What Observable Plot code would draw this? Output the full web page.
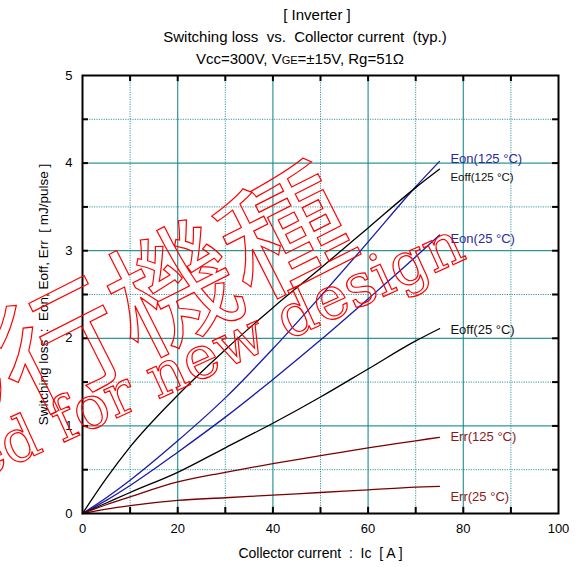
<!DOCTYPE html>
<html>
<head>
<meta charset="utf-8">
<script src="https://cdn.jsdelivr.net/npm/d3@7"></script>
<script src="https://cdn.jsdelivr.net/npm/@observablehq/plot@0.6"></script>
<style>
  body { margin: 0; background: #fff; font-family: "Liberation Sans", Arial, sans-serif; }
  #wrap { position: relative; width: 576px; height: 567px; overflow: hidden; }
  #title { position: relative; height: 68px; }
  .tl { position: absolute; width: 400px; text-align: center; font-size: 15px; white-space: pre; color: #000; line-height: 18px; }
  #wm { position: absolute; left: 0; top: 0; pointer-events: none; }
</style>
</head>
<body>
<div id="wrap">
  <div id="title">
    <div class="tl" style="left:117px; top:6px;">[ Inverter ]</div>
    <div class="tl" style="left:105px; top:28px;">Switching loss  vs.  Collector current  (typ.)</div>
    <div class="tl" style="left:100px; top:50px;">Vcc=300V, V<span style="font-size:11px">GE</span>=±15V, Rg=51Ω</div>
  </div>
  <div id="chart"></div>
  <svg id="wm" width="576" height="567"></svg>
</div>
<script>
// Collector current Ic [A]
const current = [0, 5, 10, 20, 30, 40, 50, 60, 70, 75];
// Switching losses [mJ/pulse]
const eon125  = [0, 0.18, 0.38, 0.83, 1.32, 1.88, 2.48, 3.10, 3.73, 4.02];
const eoff125 = [0, 0.40, 0.76, 1.35, 1.87, 2.35, 2.80, 3.26, 3.72, 3.93];
const eon25   = [0, 0.15, 0.32, 0.70, 1.10, 1.53, 1.98, 2.45, 2.93, 3.18];
const eoff25  = [0, 0.12, 0.24, 0.47, 0.75, 1.03, 1.33, 1.65, 1.97, 2.11];
const err125  = [0, 0.10, 0.19, 0.36, 0.47, 0.57, 0.66, 0.75, 0.83, 0.87];
const err25   = [0, 0.05, 0.09, 0.15, 0.18, 0.21, 0.24, 0.27, 0.30, 0.31];

const seriesNames = ["Eon(125 °C)", "Eoff(125 °C)", "Eon(25 °C)", "Eoff(25 °C)", "Err(125 °C)", "Err(25 °C)"];
const seriesValues = [eon125, eoff125, eon25, eoff25, err125, err25];
// label anchor positions (data units)
const labelX = [77.3, 77.3, 77.3, 77.3, 77.3, 77.3];
const labelY = [4.05, 3.84, 3.14, 2.10, 0.87, 0.19];

const xTicks = [0, 20, 40, 60, 80, 100];
const yTicks = [0, 1, 2, 3, 4, 5];
const xMajor = [20, 40, 60, 80];
const xMinor = [10, 30, 50, 70, 90];
const yMajor = [1, 2, 3, 4];
const yMinor = [0.5, 1.5, 2.5, 3.5, 4.5];
const xTickAll = d3.range(10, 100, 10);
const yTickAll = d3.range(0.5, 5, 0.5);

// styles
const lineColors = ["#1a1aa8", "#000000", "#1a1aa8", "#000000", "#7a0000", "#7a0000"];
const textColors = ["#2a2aa0", "#111111", "#2a2aa0", "#111111", "#8b1a1a", "#8b1a1a"];
const textSizes = [13, 11.5, 13, 13, 13, 13];
const grid = "#1a8a8a";

const rows = seriesNames.map((name, i) => current.map((c, j) => ({name, x: c, y: seriesValues[i][j]})));
const labels = seriesNames.map((name, i) => ({name, x: labelX[i], y: labelY[i], i}));

const marks = [
  Plot.ruleX(xMajor, {stroke: grid, strokeWidth: 1.2, strokeOpacity: 0.9}),
  Plot.ruleX(xMinor, {stroke: grid, strokeWidth: 1, strokeDasharray: "1.2,1.2", strokeOpacity: 0.85}),
  Plot.ruleY(yMajor, {stroke: grid, strokeWidth: 1.2, strokeOpacity: 0.9}),
  Plot.ruleY(yMinor, {stroke: grid, strokeWidth: 1, strokeDasharray: "1.2,1.2", strokeOpacity: 0.85}),
  // inward ticks
  Plot.ruleX(xTickAll, {y1: 0, y2: 0.07, stroke: "black", strokeWidth: 2}),
  Plot.ruleX(xTickAll, {y1: 5, y2: 4.93, stroke: "black", strokeWidth: 2}),
  Plot.ruleY(yTickAll, {x1: 0, x2: 1.25, stroke: "black", strokeWidth: 2}),
  Plot.ruleY(yTickAll, {x1: 100, x2: 98.75, stroke: "black", strokeWidth: 2}),
  ...rows.map((r, i) => Plot.line(r, {x: "x", y: "y", stroke: lineColors[i], strokeWidth: 1.3, curve: "monotone-x"})),
  ...labels.map((l, i) => Plot.text([l], {x: "x", y: "y", text: "name", textAnchor: "start", fill: textColors[i], fontSize: textSizes[i]})),
  Plot.frame({stroke: "black", strokeWidth: 2}),
  Plot.axisX(xTicks, {tickSize: 0, tickPadding: 10, fontSize: 13, tickFormat: d => String(d), label: null}),
  Plot.axisX({ticks: [], tickSize: 0, fontSize: 14, label: "Collector current  :  Ic  [ A ]", labelAnchor: "center", labelOffset: 44, labelArrow: "none"}),
  Plot.axisY(yTicks, {tickSize: 0, tickPadding: 10, fontSize: 13, tickFormat: d => String(d), label: null}),
  Plot.axisY({ticks: [], tickSize: 0, fontSize: 13.5, label: "Switching loss  :  Eon, Eoff, Err  [ mJ/pulse ]", labelAnchor: "center", labelOffset: 44, labelArrow: "none"})
];

const chart = Plot.plot({
  width: 576,
  height: 499,
  marginTop: 7,
  marginLeft: 82,
  marginRight: 18,
  marginBottom: 54,
  x: {domain: [0, 100]},
  y: {domain: [0, 5]},
  style: {fontFamily: "'Liberation Sans', Arial, sans-serif", fontSize: "13px", color: "black", background: "white"},
  marks
});
document.getElementById("chart").appendChild(chart);

// Red outlined watermark stamp
const wm = d3.select("#wm");
wm.append("text")
  .attr("transform", "translate(112,310) rotate(-26.8)")
  .attr("text-anchor", "middle")
  .attr("dominant-baseline", "central")
  .attr("font-family", "'Noto Sans CJK JP'")
  .attr("font-size", 126)
  .attr("fill", "none")
  .attr("stroke", "#ff0000")
  .attr("stroke-width", 1.2)
  .text("移行機種");

const serif = "'DejaVu Serif', 'Liberation Serif', serif";
const probe = wm.append("text").attr("font-family", serif).attr("font-size", 100).attr("opacity", 0).text("for new design");
const plen = probe.node().getComputedTextLength() || 760;
probe.remove();
const fs = 100 * 446 / plen;
wm.append("text")
  .attr("transform", "translate(468,258) rotate(-24.5)")
  .attr("text-anchor", "end")
  .attr("font-family", serif)
  .attr("font-size", fs)
  .attr("fill", "none")
  .attr("stroke", "#ff0000")
  .attr("stroke-width", 1.2)
  .text("Not recommended for new design");
</script>
</body>
</html>
